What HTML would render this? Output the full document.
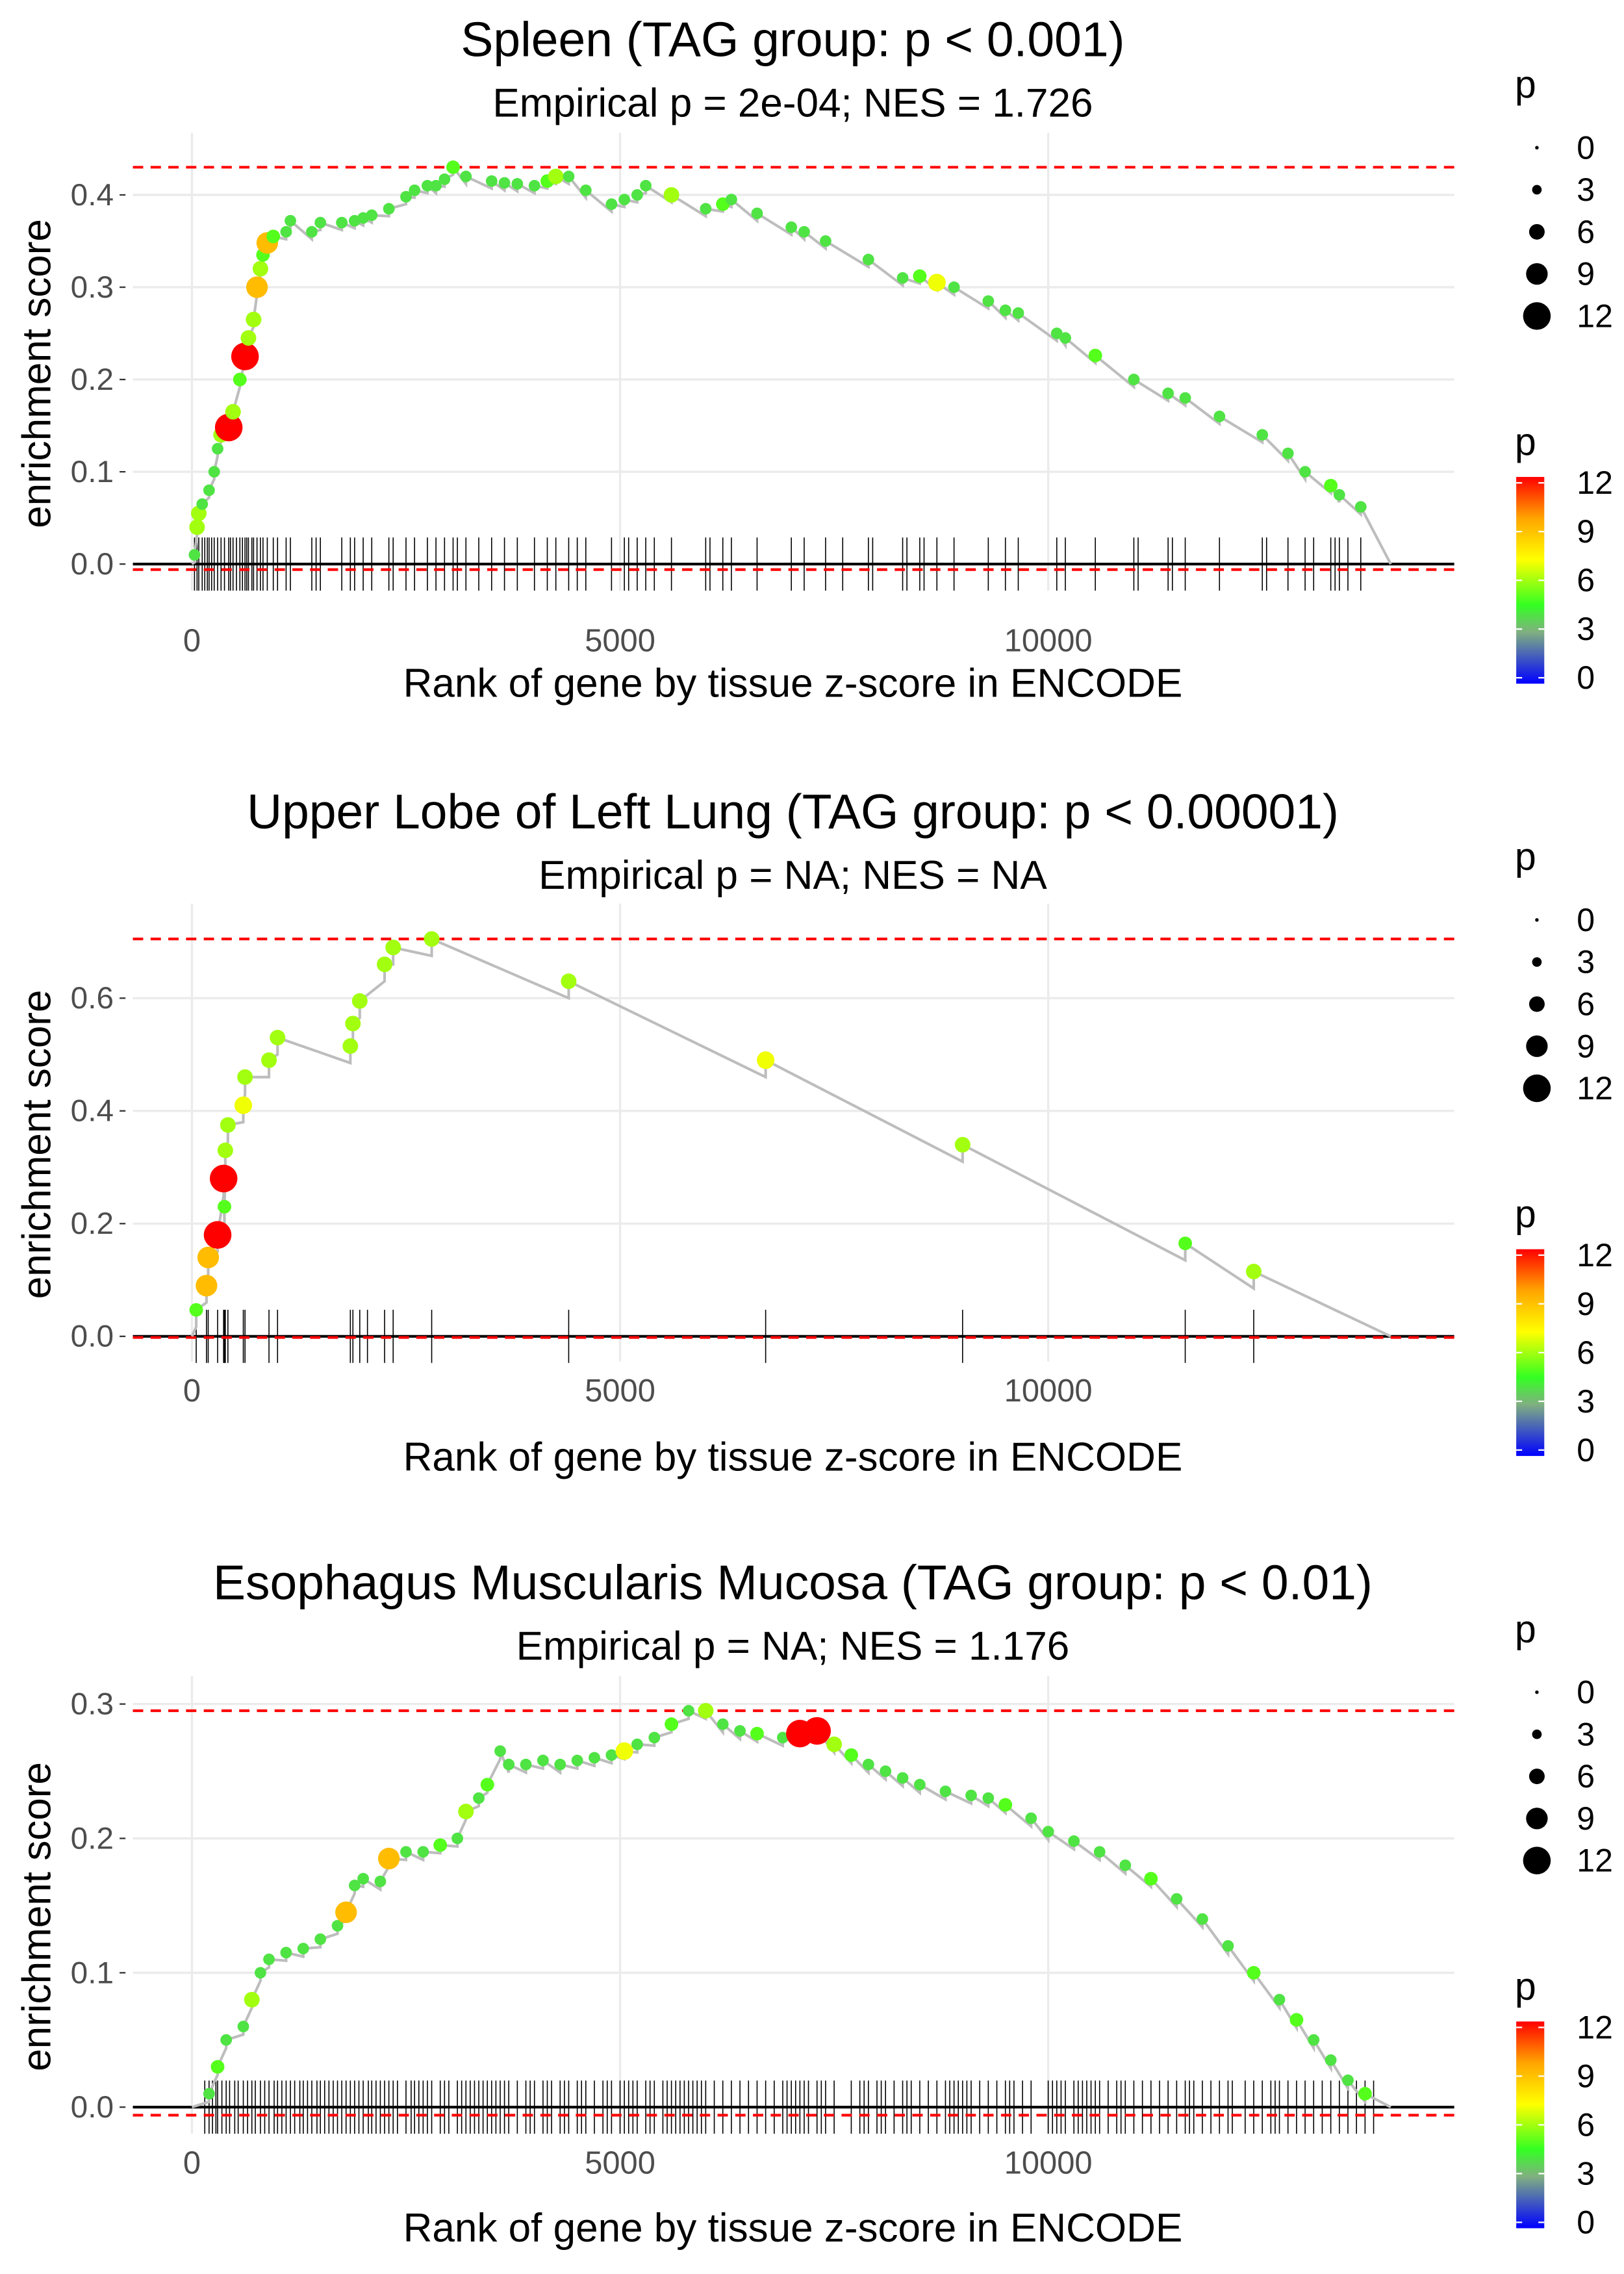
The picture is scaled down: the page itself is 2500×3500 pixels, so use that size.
<!DOCTYPE html>
<html><head><meta charset="utf-8">
<style>
html,body{margin:0;padding:0;background:#fff;}
svg{display:block;font-family:"Liberation Sans",sans-serif;}
</style></head>
<body>
<svg id="chart" width="2500" height="3500" viewBox="0 0 1100 1540" xmlns="http://www.w3.org/2000/svg">
<defs>
<linearGradient id="pgrad" x1="0" y1="1" x2="0" y2="0">
<stop offset="0" stop-color="#0000ff"/>
<stop offset="0.25" stop-color="#80b080"/>
<stop offset="0.38" stop-color="#33ff22"/>
<stop offset="0.6" stop-color="#ffff00"/>
<stop offset="0.8" stop-color="#ffa500"/>
<stop offset="1" stop-color="#ff0000"/>
</linearGradient>
</defs>
</svg>
<script>
// Panel 1: Spleen
const ranks1 = [30,60,80,120,200,260,300,340,430,480,560,620,660,720,760,800,830,880,950,1100,1150,1400,1500,1750,1900,2000,2100,2300,2500,2600,2750,2850,2950,3050,3200,3500,3650,3800,4000,4150,4250,4400,4600,4900,5050,5200,5300,5600,6000,6200,6300,6600,7000,7150,7400,7900,8300,8500,8700,8900,9300,9500,9650,10100,10200,10550,11000,11400,11600,12000,12500,12800,13000,13300,13400,13650];
const es1 = [0.01,0.04,0.055,0.065,0.08,0.1,0.125,0.14,0.148,0.165,0.2,0.225,0.245,0.265,0.3,0.32,0.335,0.348,0.355,0.36,0.372,0.36,0.37,0.37,0.372,0.375,0.378,0.385,0.398,0.405,0.41,0.41,0.417,0.43,0.42,0.415,0.413,0.412,0.41,0.415,0.42,0.42,0.405,0.39,0.395,0.4,0.41,0.4,0.385,0.39,0.395,0.38,0.365,0.36,0.35,0.33,0.31,0.312,0.305,0.3,0.285,0.275,0.272,0.25,0.245,0.226,0.2,0.185,0.18,0.16,0.14,0.12,0.1,0.085,0.075,0.062];
const p1 = [4,6,6,4,4,4,4,6,12,6,5,12,6,6,9,6,5,9,5,4,4,4,4,4,4,4,4,4,4,4,4,4,4,5,4,4,4,4,4,5,6,4,4,4,4,4,4,6,4,5,4,4,4,4,4,4,4,5,7,4,4,4,4,4,4,5,4,4,4,4,4,4,4,5,4,4];
const rug1 = [30,60,80,120,150,180,200,230,260,300,340,380,430,450,480,520,560,590,620,640,660,700,720,760,800,830,880,950,1000,1100,1150,1400,1450,1500,1750,1850,1900,2000,2100,2300,2350,2500,2600,2750,2850,2950,3050,3100,3200,3350,3500,3650,3800,4000,4150,4250,4400,4500,4600,4900,5050,5100,5200,5300,5400,5600,6000,6050,6200,6300,6600,7000,7150,7400,7600,7900,7950,8300,8350,8500,8550,8700,8900,9300,9500,9650,10100,10200,10550,11000,11050,11400,11450,11600,12000,12500,12550,12800,13000,13100,13300,13350,13400,13500,13650];
const yticks1 = [0,0.1,0.2,0.3,0.4];
const ylabels1 = ["0.0","0.1","0.2","0.3","0.4"];

// Panel 2: Upper Lobe of Left Lung
const ranks2 = [50,170,190,300,370,380,390,420,600,620,900,1000,1850,1880,1960,2250,2350,2800,4400,6700,9000,11600,12400];
const es2 = [0.047,0.09,0.14,0.18,0.28,0.23,0.33,0.375,0.41,0.46,0.49,0.53,0.515,0.555,0.595,0.66,0.69,0.705,0.63,0.49,0.34,0.165,0.115];
const p2 = [5,9,9,12,12,5,6,6,7,6,6,6,6,6,6,6,6,6,6,7,6,5,6];
const rug2 = [50,170,190,300,370,380,390,420,600,620,900,1000,1850,1880,1960,2050,2250,2350,2800,4400,6700,9000,11600,12400];
const yticks2 = [0,0.2,0.4,0.6];
const ylabels2 = ["0.0","0.2","0.4","0.6"];

// Panel 3: Esophagus Muscularis Mucosa
const ranks3 = [200,300,400,600,700,800,900,1100,1300,1500,1700,1800,1900,2000,2200,2300,2500,2700,2900,3100,3200,3350,3450,3600,3700,3900,4100,4300,4500,4700,4900,5050,5200,5400,5600,5800,6000,6200,6400,6600,6900,7100,7300,7500,7700,7900,8100,8300,8500,8800,9100,9300,9500,9800,10000,10300,10600,10900,11200,11500,11800,12100,12400,12700,12900,13100,13300,13500,13700];
const es3 = [0.01,0.03,0.05,0.06,0.08,0.1,0.11,0.115,0.118,0.125,0.135,0.145,0.165,0.17,0.168,0.185,0.19,0.19,0.195,0.2,0.22,0.23,0.24,0.265,0.255,0.255,0.258,0.255,0.258,0.26,0.262,0.265,0.27,0.275,0.285,0.295,0.295,0.285,0.28,0.278,0.275,0.278,0.28,0.27,0.262,0.255,0.25,0.245,0.24,0.235,0.232,0.23,0.225,0.215,0.205,0.198,0.19,0.18,0.17,0.155,0.14,0.12,0.1,0.08,0.065,0.05,0.035,0.02,0.01];
const p3 = [4,5,4,4,6,4,4,4,4,4,4,9,4,4,4,9,4,4,5,4,6,4,5,4,4,4,4,4,4,4,4,7,4,4,5,4,6,4,4,5,4,12,12,6,5,4,4,4,4,4,4,4,5,4,4,4,4,4,5,4,4,4,5,4,5,4,4,4,5];
const rug3 = [150,200,240,280,300,350,400,440,500,540,600,650,700,740,800,850,900,960,1000,1050,1100,1150,1200,1260,1300,1350,1400,1460,1500,1550,1600,1650,1700,1750,1800,1850,1900,1950,2000,2060,2100,2150,2200,2250,2300,2350,2400,2500,2560,2600,2650,2700,2750,2800,2900,2950,3000,3100,3150,3200,3250,3300,3350,3400,3450,3500,3550,3600,3650,3700,3800,3900,3950,4000,4100,4150,4200,4300,4350,4400,4500,4550,4600,4700,4800,4850,4900,5000,5050,5100,5150,5200,5300,5350,5400,5500,5550,5600,5650,5700,5750,5800,5850,5900,5950,6000,6100,6200,6300,6400,6500,6600,6700,6800,6900,6950,7000,7050,7100,7150,7200,7300,7350,7400,7500,7700,7800,7850,7900,8000,8050,8100,8200,8300,8350,8400,8500,8600,8700,8800,8850,8900,8950,9000,9050,9100,9200,9300,9400,9500,9550,9600,9700,9800,10000,10050,10100,10150,10200,10300,10350,10400,10450,10500,10550,10600,10700,10800,10850,10900,11000,11100,11200,11300,11400,11500,11600,11650,11700,11800,11900,12000,12100,12150,12300,12400,12500,12600,12650,12700,12800,12900,13000,13100,13200,13300,13400,13500,13600,13700,13800];
const yticks3 = [0,0.1,0.2,0.3];
const ylabels3 = ["0.0","0.1","0.2","0.3"];

const xticks = [0,5000,10000];
const xlabels = ["0","5000","10000"];
const legendVals = [0,3,6,9,12];
const cbLabels = ["12","9","6","3","0"];

const NS = "http://www.w3.org/2000/svg";
const svg = document.getElementById("chart");
function mk(tag, attrs, parent){
  const e = document.createElementNS(NS, tag);
  for (const k in attrs) e.setAttribute(k, attrs[k]);
  (parent||svg).appendChild(e);
  return e;
}
function txt(s, attrs, parent){ const t = mk("text", attrs, parent); t.textContent = s; return t; }
function hex(c){return [parseInt(c.substr(1,2),16),parseInt(c.substr(3,2),16),parseInt(c.substr(5,2),16)];}
const stops=[[0,"#0000ff"],[0.25,"#80b080"],[0.38,"#33ff22"],[0.6,"#ffff00"],[0.8,"#ffa500"],[1,"#ff0000"]];
function pcolor(p){
  const t=Math.max(0,Math.min(1,p/12));
  for(let i=1;i<stops.length;i++){
    if(t<=stops[i][0]){
      const a=stops[i-1],b=stops[i];const f=(t-a[0])/(b[0]-a[0]);
      const ca=hex(a[1]),cb=hex(b[1]);
      return "rgb("+ca.map((v,j)=>Math.round(v+(cb[j]-v)*f)).join(",")+")";
    }
  }
  return "#ff0000";
}
function prad(p){ return 1.2+p*0.68; }

const XL=90, XR=985;
function xScale(r){ return 130 + r*0.058; }

function panel(cfg){
  const g = mk("g",{});
  
  
  const ys = v => cfg.y0 - v*cfg.k;
  const gridV = mk("g",{});
  
  
  g.appendChild(gridV);
  cfg.yt.forEach(v=>{ mk("line",{x1:XL,x2:XR,y1:ys(v),y2:ys(v),stroke:"#ebebeb","stroke-width":1.5},gridV); });
  xticks.forEach(v=>{ mk("line",{x1:xScale(v),x2:xScale(v),y1:cfg.top,y2:cfg.bottom,stroke:"#ebebeb","stroke-width":1.5},gridV); });
  cfg.yt.forEach((v,i)=>{
    const t = txt(cfg.yl[i],{x:77,y:ys(v)+7,"text-anchor":"end","font-size":21,fill:"#4d4d4d"},g);
    
    
    mk("line",{x1:81,x2:85,y1:ys(v),y2:ys(v),stroke:"#333","stroke-width":1},g);
  });
  xticks.forEach((v,i)=>{
    const t = txt(xlabels[i],{x:xScale(v),y:cfg.xtY,"text-anchor":"middle","font-size":21.5,fill:"#4d4d4d"},g);
    
    
  });
  mk("line",{x1:XL,x2:XR,y1:ys(0),y2:ys(0),stroke:"#000","stroke-width":1.8},g);
  const rug = mk("g",{},g);
  
  
  cfg.rug.forEach(r=>{ mk("line",{x1:xScale(r),x2:xScale(r),y1:ys(0)-18,y2:ys(0)+18,stroke:"#000","stroke-width":0.7},rug); });
  const mx = Math.max(...cfg.e);
  const l1 = mk("line",{x1:XL,x2:XR,y1:ys(mx),y2:ys(mx),stroke:"#ff0000","stroke-width":1.8,"stroke-dasharray":"7,5"},g);
  
  
  const l2 = mk("line",{x1:XL,x2:XR,y1:ys(cfg.minv),y2:ys(cfg.minv),stroke:"#ff0000","stroke-width":1.8,"stroke-dasharray":"7,5"},g);
  
  
  let d = "M"+xScale(0)+","+ys(0);
  cfg.r.forEach((r,i)=>{
    const pre = Math.max(0, cfg.e[i]-cfg.drop);
    d += " L"+xScale(r)+","+ys(pre)+" L"+xScale(r)+","+ys(cfg.e[i]);
  });
  d += " L"+xScale(14000)+","+ys(0);
  const path = mk("path",{d:d,fill:"none",stroke:"#bdbdbd","stroke-width":1.8},g);
  
  
  cfg.r.forEach((r,i)=>{
    const c = mk("circle",{cx:xScale(r),cy:ys(cfg.e[i]),r:prad(cfg.p[i]),fill:pcolor(cfg.p[i])},g);
    
    
  });
  const t1 = txt(cfg.title,{x:537,y:cfg.titleY,"text-anchor":"middle","font-size":33,fill:"#000"},g);
  
  
  const t2 = txt(cfg.sub,{x:537,y:cfg.subY,"text-anchor":"middle","font-size":27.3,fill:"#000"},g);
  
  
  const xl = txt("Rank of gene by tissue z-score in ENCODE",{x:537,y:cfg.xlY,"text-anchor":"middle","font-size":27.3,fill:"#000"},g);
  
  
  const yc = (cfg.top+cfg.bottom)/2 + 8;
  const yl = txt("enrichment score",{x:34,y:yc,"text-anchor":"middle","font-size":27.3,fill:"#000",transform:"rotate(-90 34 "+yc+")"},g);
  
  
  const lg = mk("g",{},g);
  
  
  txt("p",{x:1026,y:cfg.legTop+6,"font-size":26,fill:"#000"},lg);
  legendVals.forEach((v,i)=>{
    const yy = cfg.legTop+40+i*28.5;
    const c = mk("circle",{cx:1041,cy:yy,r:prad(v),fill:"#000"},lg);
    
    
    txt(String(v),{x:1068,y:yy+7.5,"font-size":22,fill:"#000"},lg);
  });
  const cb = mk("g",{},g);
  
  
  const cbTop = cfg.legTop+263;
  txt("p",{x:1026,y:cbTop-15,"font-size":26,fill:"#000"},cb);
  const bar = mk("rect",{x:1027,y:cbTop,width:19,height:140,fill:"url(#pgrad)"},cb);
  
  
  cbLabels.forEach((s,i)=>{
    const yy = cbTop+4+i*33;
    mk("line",{x1:1027,x2:1031,y1:yy,y2:yy,stroke:"#fff","stroke-width":1},cb);
    mk("line",{x1:1042,x2:1046,y1:yy,y2:yy,stroke:"#fff","stroke-width":1},cb);
    txt(s,{x:1068,y:yy+7.5,"font-size":22,fill:"#000"},cb);
  });
}

panel({name:"spleen-panel",r:ranks1,e:es1,p:p1,rug:rug1,yt:yticks1,yl:ylabels1,y0:382,k:625,top:90,bottom:400,minv:-0.006,drop:0.008,
  title:"Spleen (TAG group: p < 0.001)",sub:"Empirical p = 2e-04; NES = 1.726",titleY:38,subY:79,xtY:441,xlY:472,legTop:60});
panel({name:"lung-panel",r:ranks2,e:es2,p:p2,rug:rug2,yt:yticks2,yl:ylabels2,y0:905,k:381.7,top:612,bottom:922,minv:-0.002,drop:0.03,
  title:"Upper Lobe of Left Lung (TAG group: p < 0.00001)",sub:"Empirical p = NA; NES = NA",titleY:561,subY:602,xtY:949,xlY:996,legTop:583});
panel({name:"esophagus-panel",r:ranks3,e:es3,p:p3,rug:rug3,yt:yticks3,yl:ylabels3,y0:1427,k:910,top:1135,bottom:1445,minv:-0.006,drop:0.006,
  title:"Esophagus Muscularis Mucosa (TAG group: p < 0.01)",sub:"Empirical p = NA; NES = 1.176",titleY:1083,subY:1124,xtY:1472,xlY:1518,legTop:1106});
</script>
</body></html>
